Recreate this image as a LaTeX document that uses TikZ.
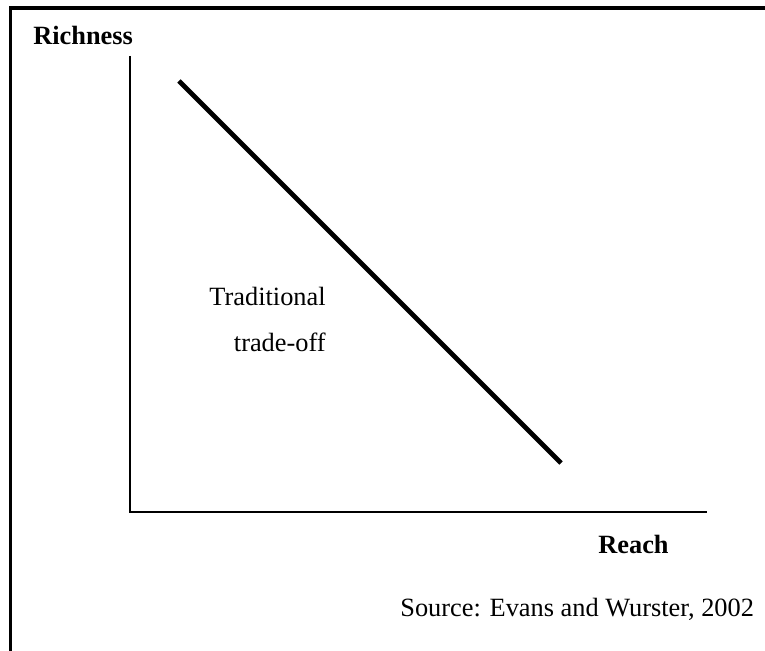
\documentclass[tikz,border=0pt]{standalone}
\usepackage{fontspec}
\setmainfont{Liberation Serif}
\tikzset{
    axislabel/.style={font=\fontsize{15}{18}\selectfont\bfseries, inner sep=0pt},
    plainlabel/.style={font=\fontsize{15}{18}\selectfont, inner sep=0pt}
}

\begin{document}
\begin{tikzpicture}
            \useasboundingbox                                            ( 0.00, 0.00) rectangle (15.30,13.02);
            \draw[line width=2pt]                                        ( 0.21, 0.00) -- ( 0.21,12.86) -- (15.30,12.86);
            \coordinate (top)    at ( 2.60,11.90);
            \coordinate (origin) at ( 2.60, 2.78);
            \coordinate (right)  at (14.14, 2.78);
            \draw[line width=0.85pt] (top) -- (origin) -- (right);
            \draw[line width=2.8pt]                                      ( 3.58,11.40) -- (11.22, 3.76);
            \node[axislabel,  anchor=base west] (rich)     at ( 0.66,12.12) {Richness};
            \node[axislabel,  anchor=base west] (reach)    at (11.96, 1.94) {Reach};
            \node[plainlabel, anchor=base east] (trad)     at ( 6.52, 6.90) {Traditional};
            \node[plainlabel, anchor=base east] (tradeoff) at ( 6.52, 5.98) {trade-off};
            \node[plainlabel, anchor=base west] (src)      at ( 8.00, 0.68) {Source: Evans and Wurster, 2002};
\end{tikzpicture}
\end{document}
